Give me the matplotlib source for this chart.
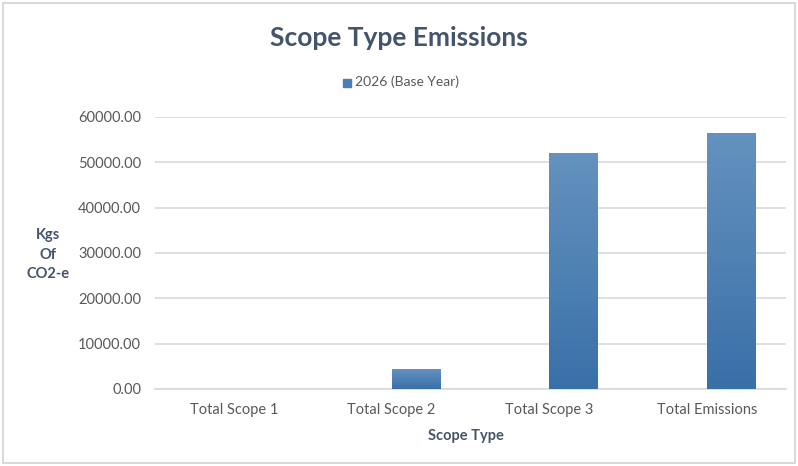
import numpy as np
import matplotlib
matplotlib.use('Agg')
import matplotlib.pyplot as plt
from matplotlib.patches import Rectangle

# 数据
categories = ['Total Scope 1', 'Total Scope 2', 'Total Scope 3', 'Total Emissions']
values_2026 = [0.0, 4200.0, 51850.0, 56300.0]
series_name = '2026 (Base Year)'
y_ticks = [0, 10000, 20000, 30000, 40000, 50000, 60000]

plt.rcParams['font.family'] = ['Lato', 'DejaVu Sans']

fig = plt.figure(figsize=(7.98, 4.66), dpi=100)
ax = fig.add_axes([155 / 798, 1 - 389 / 466, 631 / 798, 272 / 466])

x = np.arange(len(categories))
bw = 0.31
bars = ax.bar(x + bw / 2, values_2026, width=bw, color='#4A7EB5', zorder=2)

# 渐变填充（上浅下深）
grad = np.linspace(0, 1, 256).reshape(-1, 1)
cmap = matplotlib.colors.LinearSegmentedColormap.from_list('g', ['#3970A8', '#6592BF'])
for b in bars:
    h = b.get_height()
    if h <= 0:
        continue
    x0 = b.get_x()
    ax.imshow(grad, extent=[x0, x0 + b.get_width(), 0, h], origin='lower',
              cmap=cmap, aspect='auto', zorder=3)

ax.set_xlim(-0.5, len(categories) - 0.5)
ax.set_ylim(0, 60000)
ax.set_yticks(y_ticks)
ax.set_yticklabels(['%.2f' % v for v in y_ticks])
ax.set_xticks(x)
ax.set_xticklabels(categories)
ax.tick_params(length=0, colors='#595959', labelsize=10.5)
ax.tick_params(axis='y', pad=10)
ax.tick_params(axis='x', pad=10)
ax.grid(axis='y', color='#D9D9D9', linewidth=1.2, zorder=0)
for s in ['top', 'right', 'left']:
    ax.spines[s].set_visible(False)
ax.spines['bottom'].set_color('#D9D9D9')
ax.spines['bottom'].set_linewidth(1.2)

fig.text(0.5, 1 - 38 / 466, 'Scope Type Emissions', ha='center', va='center',
         fontsize=19, fontweight='bold', color='#44546A')
fig.text(48 / 798, 1 - 255 / 466, 'Kgs\nOf\nCO2-e', ha='center', va='center',
         fontsize=10.5, fontweight='bold', color='#44546A', linespacing=1.5)
fig.text(466 / 798, 1 - 436 / 466, 'Scope Type', ha='center', va='center',
         fontsize=10.5, fontweight='bold', color='#44546A')

# 图例
fig.patches.append(Rectangle((343 / 798, 1 - 87 / 466), 8 / 798, 8 / 466,
                             transform=fig.transFigure, color='#4A7EB5'))
fig.text(355 / 798, 1 - 82 / 466, series_name, ha='left', va='center',
         fontsize=10, color='#595959')

# 外框
fig.patches.append(Rectangle((3 / 798, 3 / 466), 792 / 798, 460 / 466,
                             transform=fig.transFigure, fill=False,
                             edgecolor='#D9D9D9', linewidth=1.5))

fig.savefig('out.png', dpi=100)
